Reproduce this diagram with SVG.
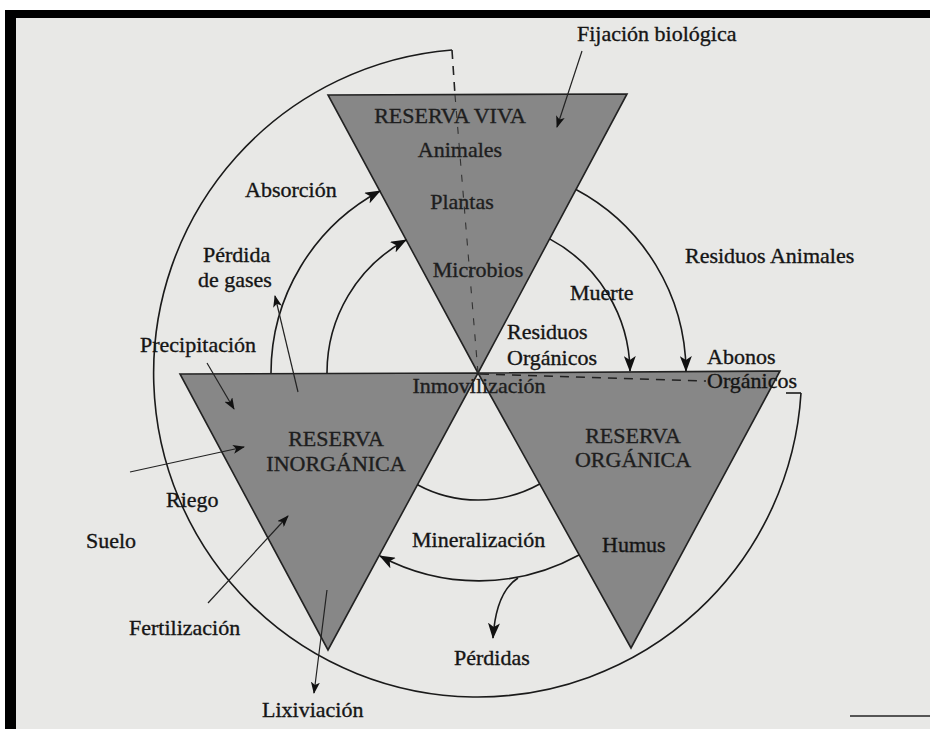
<svg xmlns="http://www.w3.org/2000/svg" width="930" height="729" viewBox="0 0 930 729">
<style>
  .bg { fill: #e8e8e6; }
  .tri { fill: #878787; stroke: #222; stroke-width: 1.6; stroke-linejoin: miter; }
  .ln { fill: none; stroke: #1a1a1a; stroke-width: 1.6; }
  .thin { fill: none; stroke: #222; stroke-width: 1.2; }
  .dash { fill: none; stroke: #222; stroke-width: 1.6; stroke-dasharray: 9 7; }
  .dashin { fill: none; stroke: #333; stroke-width: 1.1; stroke-dasharray: 7 9; }
  text { font-family: "Liberation Serif", "Times New Roman", serif; font-size: 22px; fill: #151515; stroke: #151515; stroke-width: 0.35; }
  .in { fill: #1e1e1e; stroke: #1e1e1e; }
  .mid { text-anchor: middle; }
</style>
<defs>
  <marker id="ah" viewBox="0 0 16 12" refX="15" refY="6" markerWidth="16" markerHeight="12" orient="auto" markerUnits="userSpaceOnUse">
    <path d="M0,0 L16,6 L0,12 L4,6 z" fill="#111"/>
  </marker>
  <marker id="ahs" viewBox="0 0 12 9" refX="11" refY="4.5" markerWidth="12" markerHeight="9" orient="auto" markerUnits="userSpaceOnUse">
    <path d="M0,0 L12,4.5 L0,9 L3,4.5 z" fill="#111"/>
  </marker>
</defs>

<!-- background and scan frame -->
<rect x="0" y="0" width="930" height="729" fill="#ffffff"/>
<rect class="bg" x="15" y="18" width="915" height="711"/>
<rect x="5" y="10" width="925" height="8" fill="#000"/>
<rect x="5" y="10" width="11" height="719" fill="#000"/>
<line x1="850" y1="716" x2="930" y2="716" stroke="#555" stroke-width="2"/>

<!-- nodes -->
<g id="reserva-viva">
  <polygon class="tri" points="328,95 627,94 478,373"/>
  <text class="in mid" x="450" y="123">RESERVA VIVA</text>
  <text class="in mid" x="460" y="157">Animales</text>
  <text class="in mid" x="462" y="209">Plantas</text>
  <text class="in mid" x="478" y="277">Microbios</text>
</g>
<g id="reserva-inorganica">
  <polygon class="tri" points="180,374 478,373 328,650"/>
  <text class="in mid" x="336" y="446">RESERVA</text>
  <text class="in mid" x="336" y="471">INORGÁNICA</text>
</g>
<g id="reserva-organica">
  <polygon class="tri" points="478,373 780,371 631,648"/>
  <text class="in mid" x="633" y="443">RESERVA</text>
  <text class="in mid" x="633" y="467">ORGÁNICA</text>
  <text x="602" y="552">Humus</text>
</g>

<!-- connectors -->
<g id="connectors">
  <!-- outer soil boundary -->
  <path class="ln" d="M 452 50 A 324 324 0 1 0 801 393"/>
  <line class="dash" x1="452" y1="50" x2="455" y2="95"/>
  <line class="dashin" x1="455" y1="95" x2="478" y2="373"/>
  <line class="dash" x1="480" y1="374" x2="706" y2="381"/>
  <line class="ln" x1="786" y1="393" x2="801" y2="393"/>

  <!-- absorption arcs -->
  <path class="ln" d="M 271 373 A 207 207 0 0 1 380 191" marker-end="url(#ah)"/>
  <path class="ln" d="M 327 373 A 151 151 0 0 1 406 240" marker-end="url(#ah)"/>

  <!-- death and animal residues -->
  <path class="ln" d="M 549.6 238.9 A 152 152 0 0 1 630 371" marker-end="url(#ah)"/>
  <path class="ln" d="M 576 189.5 A 208 208 0 0 1 686 371" marker-end="url(#ah)"/>

  <!-- immobilization / mineralization -->
  <path class="ln" d="M 417.5 484.7 A 127 127 0 0 0 539.7 484"/>
  <path class="ln" d="M 579 555 A 208 208 0 0 1 380 556" marker-end="url(#ah)"/>
  <path class="ln" d="M 518 578 Q 496 592 493 638" marker-end="url(#ah)"/>

  <!-- external inputs / outputs -->
  <line class="thin" x1="582" y1="51" x2="557" y2="127" marker-end="url(#ahs)"/>
  <line class="thin" x1="207" y1="363" x2="234" y2="409" marker-end="url(#ahs)"/>
  <line class="thin" x1="130" y1="472" x2="244" y2="447" marker-end="url(#ahs)"/>
  <line class="thin" x1="208" y1="603" x2="288" y2="516" marker-end="url(#ahs)"/>
  <line class="thin" x1="327" y1="590" x2="314" y2="693" marker-end="url(#ahs)"/>
  <line class="thin" x1="298" y1="392" x2="275" y2="296" marker-end="url(#ahs)"/>
</g>

<!-- labels -->
<g id="labels">
  <text x="577" y="41">Fijación biológica</text>
  <text x="245" y="197">Absorción</text>
  <text x="203" y="262">Pérdida</text>
  <text x="198" y="287">de gases</text>
  <text x="140" y="352">Precipitación</text>
  <text x="166" y="507">Riego</text>
  <text x="86" y="548">Suelo</text>
  <text x="129" y="635">Fertilización</text>
  <text x="262" y="717">Lixiviación</text>
  <text class="in mid" x="479" y="393">Inmovilización</text>
  <text x="507" y="339">Residuos</text>
  <text x="507" y="365">Orgánicos</text>
  <text x="570" y="300">Muerte</text>
  <text x="685" y="263">Residuos Animales</text>
  <text x="707" y="364">Abonos</text>
  <text x="707" y="388">Orgánicos</text>
  <text x="412" y="547">Mineralización</text>
  <text x="454" y="665">Pérdidas</text>
</g>
</svg>
